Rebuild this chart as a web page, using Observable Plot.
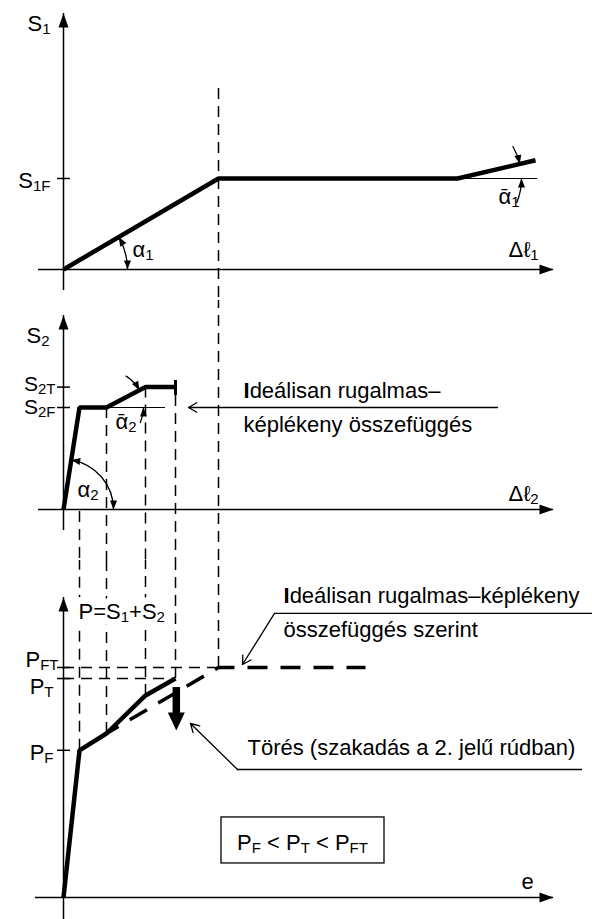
<!DOCTYPE html>
<html>
<head>
<meta charset="utf-8">
<script src="https://cdn.jsdelivr.net/npm/d3@7"></script>
<script src="https://cdn.jsdelivr.net/npm/@observablehq/plot@0.6"></script>
<style>
  body { margin: 0; background: #fff; }
  #chart { width: 592px; height: 919px; overflow: hidden; background: #fff; }
  #chart svg { display: block; }
</style>
</head>
<body>
<div id="chart"></div>
<script>
// Bar 1: axial force S1 against elongation Δℓ1 (yield, then slight hardening)
const bar1Elong = [0, 15.5, 39.4, 47.2];
const bar1Force = [0, 100, 100, 120];

// Bar 2: axial force S2 against elongation Δℓ2 (yield, hardening, rupture)
const bar2Elong = [0, 1.6, 4.3, 8.2, 11.2];
const bar2Force = [0, 100, 100, 120, 120];

// Total load P = S1 + S2 against displacement e
const totalElong = [0, 1.6, 4.3, 8.2, 11.2];
const totalLoad = [0, 128, 142.6, 175.7, 190.4];

// Ideal elastic–plastic prediction of the total load
const idealElong = [4.3, 15.5, 30.2];
const idealLoad = [142.6, 200, 200];

// Axis tick values and their labels
const s1Ticks = [bar1Force[1]];
const s1TickLabels = ["S_{1F}"];
const s2Ticks = [bar2Force[3], bar2Force[1]];
const s2TickLabels = ["S_{2T}", "S_{2F}"];
const pTicks = [idealLoad[1], totalLoad[4], totalLoad[1]];
const pTickLabels = ["P_{FT}", "P_{T}", "P_{F}"];

// ---- shared geometry of the three stacked panels ----
const W = 592;
const X_DOMAIN = [-6.3, 52.9];
const TOP = {h: 300, y: [-34.07, 295.6]};
const MID = {h: 260, y: [-50, 204.9]};
const BOT = {h: 359, y: [-19.13, 293.04]};
const sx = d3.scaleLinear(X_DOMAIN, [0, W]);

const FONT = "'Liberation Sans', Arial, Helvetica, sans-serif";
const FS = 22;
const thin = {stroke: "black", strokeWidth: 1.5};
const dashed = {stroke: "black", strokeWidth: 1.5, strokeDasharray: "11,7"};
const thick = {stroke: "black", strokeWidth: 4.5, strokeLinejoin: "miter", strokeLinecap: "butt"};

// filled triangular arrow head, tip at the origin, pointing at `deg` (screen angle)
function tri(deg, len, half) {
  const a = deg * Math.PI / 180, c = Math.cos(a), s = Math.sin(a);
  return {
    draw(ctx) {
      ctx.moveTo(0, 0);
      ctx.lineTo(-len * c + half * s, -len * s - half * c);
      ctx.lineTo(-len * c - half * s, -len * s + half * c);
      ctx.closePath();
    }
  };
}
function head(x, y, deg, len = 9, half = 3.5) {
  return Plot.dot([{x, y}], {x: "x", y: "y", symbol: tri(deg, len, half), fill: "black", stroke: "none"});
}

// axis pair with filled arrow heads
function axes(yMin, yTip, xMin, xTip) {
  return [
    Plot.ruleX([0], {y1: yMin, y2: yTip, ...thin}),
    Plot.ruleY([0], {x1: xMin, x2: xTip, ...thin}),
    head(0, yTip, -90, 14, 5),
    head(xTip, 0, 0, 14, 5)
  ];
}

// angle between the x axis and the segment p→q, in screen degrees (counter-clockwise positive)
function segAngle(sy, x0, y0, x1, y1) {
  return Math.atan2(sy(y0) - sy(y1), sx(x1) - sx(x0)) * 180 / Math.PI;
}

// circular angle-marker arc around a vertex, radius r px, from angle a0 to a1
function angleArc(sy, vx, vy, r, a0, a1, both) {
  const rad = Math.PI / 180;
  const pt = a => [sx.invert(sx(vx) + r * Math.cos(a * rad)), sy.invert(sy(vy) - r * Math.sin(a * rad))];
  const [x1, y1] = pt(a0), [x2, y2] = pt(a1);
  const cw = a1 < a0;
  const travel = a => cw
    ? Math.atan2(Math.cos(a * rad), Math.sin(a * rad)) / rad
    : Math.atan2(-Math.cos(a * rad), -Math.sin(a * rad)) / rad;
  const marks = [
    Plot.arrow([{x1, y1, x2, y2}], {x1: "x1", y1: "y1", x2: "x2", y2: "y2", bend: (a0 - a1) / 2, headLength: 0, stroke: "black", strokeWidth: 1.3}),
    head(x2, y2, travel(a1))
  ];
  if (both) marks.push(head(x1, y1, travel(a0) + 180));
  return marks;
}

function label(text, x, y, opts = {}) {
  return Plot.text([text], {x, y, text: d => d, fontSize: FS, fill: "black", textAnchor: "start", lineAnchor: "bottom", ...opts});
}

function leader(x1, y1, x2, y2) {
  return Plot.arrow([{x1, y1, x2, y2}], {x1: "x1", y1: "y1", x2: "x2", y2: "y2", headLength: 11, headAngle: 60, stroke: "black", strokeWidth: 1.3});
}

// subscripts written as _{..}, bold as *..*
function richText(node) {
  const s = node.textContent;
  if (!/[_*]/.test(s)) return;
  const re = /_\{([^}]*)\}|\*([^*]*)\*|([^_*]+)/g;
  const parts = [];
  let m;
  while ((m = re.exec(s))) {
    if (m[1] != null) parts.push({t: m[1], sub: true});
    else if (m[2] != null) parts.push({t: m[2], bold: true});
    else parts.push({t: m[3]});
  }
  node.textContent = "";
  let low = false;
  for (const p of parts) {
    const ts = document.createElementNS("http://www.w3.org/2000/svg", "tspan");
    ts.textContent = p.t;
    if (p.sub) {
      ts.setAttribute("font-size", "15px");
      if (!low) { ts.setAttribute("dy", "3"); low = true; }
    } else if (low) {
      ts.setAttribute("dy", "-3"); low = false;
    }
    if (p.bold) ts.setAttribute("font-weight", "bold");
    node.appendChild(ts);
  }
}

function panel(cfg, marks) {
  const svg = Plot.plot({
    width: W, height: cfg.h, margin: 0,
    x: {domain: X_DOMAIN, range: [0, W], axis: null},
    y: {domain: cfg.y, range: [cfg.h, 0], axis: null},
    style: {background: "white", color: "black", fontFamily: FONT, fontSize: FS + "px", overflow: "visible"},
    marks
  });
  svg.querySelectorAll("text").forEach(richText);
  return svg;
}

// ---------- top panel: bar 1 ----------
const syT = d3.scaleLinear(TOP.y, [TOP.h, 0]);
const ang1 = segAngle(syT, bar1Elong[0], bar1Force[0], bar1Elong[1], bar1Force[1]);
const ang1h = segAngle(syT, bar1Elong[2], bar1Force[2], bar1Elong[3], bar1Force[3]);
const panelBar1 = panel(TOP, [
  Plot.ruleX([bar1Elong[1]], {y1: 198.9, y2: TOP.y[0], ...dashed}),
  ...axes(-23, 281.3, -2.5, 49),
  Plot.ruleY(s1Ticks, {x1: -0.6, x2: 0.7, ...thin}),
  Plot.ruleY([bar1Force[2]], {x1: bar1Elong[2], x2: 47.4, stroke: "black", strokeWidth: 1.2}),
  Plot.line(bar1Elong.map((e, i) => ({e, s: bar1Force[i]})), {x: "e", y: "s", ...thick}),
  ...angleArc(syT, 0, 0, 64, 0, ang1, true),
  ...angleArc(syT, bar1Elong[2], bar1Force[2], 64, 30, ang1h, false),
  ...angleArc(syT, bar1Elong[2], bar1Force[2], 64, -22, 0, false),
  label("S_{1}", -1.3, 262.6, {textAnchor: "end"}),
  Plot.text(s1Ticks, {x: -1.3, y: d => d, text: (d, i) => s1TickLabels[i], textAnchor: "end", lineAnchor: "middle", dy: 2, fontSize: FS, fill: "black"}),
  label("α_{1}", 6.9, 13.2),
  label("ᾱ_{1}", 43.5, 72.5),
  label("Δℓ_{1}", 44.5, 13.2)
]);

// ---------- middle panel: bar 2 ----------
const syM = d3.scaleLinear(MID.y, [MID.h, 0]);
const ang2 = segAngle(syM, bar2Elong[0], bar2Force[0], bar2Elong[1], bar2Force[1]);
const ang2h = segAngle(syM, bar2Elong[2], bar2Force[2], bar2Elong[3], bar2Force[3]);
const panelBar2 = panel(MID, [
  Plot.ruleX([bar1Elong[1]], {y1: MID.y[0], y2: MID.y[1], ...dashed}),
  Plot.ruleX([bar2Elong[1]], {y1: bar2Force[0] - 2, y2: MID.y[0], ...dashed}),
  Plot.ruleX([bar2Elong[2]], {y1: bar2Force[2], y2: MID.y[0], ...dashed}),
  Plot.ruleX([bar2Elong[3]], {y1: bar2Force[3], y2: MID.y[0], ...dashed}),
  Plot.ruleX([bar2Elong[4]], {y1: 111.8, y2: MID.y[0], ...dashed}),
  ...axes(-20.6, 190.2, -2.5, 49),
  Plot.ruleY(s2Ticks, {x1: -0.6, x2: 0.7, ...thin}),
  Plot.ruleY([bar2Force[2]], {x1: bar2Elong[2], x2: 10.2, stroke: "black", strokeWidth: 1.2}),
  Plot.line(bar2Elong.map((e, i) => ({e, s: bar2Force[i]})), {x: "e", y: "s", ...thick}),
  Plot.ruleX([bar2Elong[4]], {y1: 111.8, y2: 126.5, stroke: "black", strokeWidth: 3}),
  ...angleArc(syM, 0, 0, 50, 0, ang2, true),
  ...angleArc(syM, bar2Elong[2], bar2Force[2], 37, 58, ang2h, false),
  ...angleArc(syM, bar2Elong[2], bar2Force[2], 37, -24, 0, false),
  label("S_{2}", -1.4, 163.7, {textAnchor: "end"}),
  Plot.text([s2Ticks[0]], {x: -0.8, y: d => d, text: () => s2TickLabels[0], textAnchor: "end", lineAnchor: "middle", dy: -3, fontSize: 21, fill: "black"}),
  Plot.text([s2Ticks[1]], {x: -0.8, y: d => d, text: () => s2TickLabels[1], textAnchor: "end", lineAnchor: "middle", dy: 0, fontSize: 21, fill: "black"}),
  label("α_{2}", 1.4, 11.8),
  label("ᾱ_{2}", 5.2, 79.4),
  label("Δℓ_{2}", 44.5, 8.8),
  label("*I*deálisan rugalmas–", 18, 109.8),
  label("képlékeny összefüggés", 18, 75.5),
  leader(43.4, bar2Force[1], 12.5, bar2Force[1])
]);

// ---------- bottom panel: total load ----------
const panelTotal = panel(BOT, [
  Plot.ruleX(totalElong.slice(1), {y1: (d, i) => totalLoad[i + 1], y2: BOT.y[1], ...dashed}),
  Plot.ruleX([bar1Elong[1]], {y1: idealLoad[1], y2: BOT.y[1], ...dashed}),
  Plot.ruleY([pTicks[0]], {x1: 0, x2: bar1Elong[1], ...dashed}),
  Plot.ruleY([pTicks[1]], {x1: 0, x2: totalElong[4], ...dashed}),
  ...axes(BOT.y[0], 260.9, -2.8, 49),
  Plot.ruleY(pTicks, {x1: -0.6, x2: 0.7, ...thin}),
  Plot.line(idealElong.map((e, i) => ({e, p: idealLoad[i]})), {x: "e", y: "p", stroke: "black", strokeWidth: 3.5, strokeDasharray: "20,13", strokeDashoffset: 6, strokeLinecap: "butt"}),
  Plot.line(totalElong.map((e, i) => ({e, p: totalLoad[i]})), {x: "e", y: "p", ...thick}),
  // rupture of bar 2: heavy downward arrow
  Plot.ruleX([11.28], {y1: 182.6, y2: 158, stroke: "black", strokeWidth: 7.5}),
  head(11.28, 145.2, 90, 18, 8.5),
  // white backing under the formula so the dashed guides stop behind it
  label("P=S_{1}+S_{2}", 1.5, 242.6, {fill: "white", stroke: "white", strokeWidth: 14, strokeLinejoin: "round", ariaHidden: "true"}),
  label("P=S_{1}+S_{2}", 1.5, 242.6),
  Plot.text([pTickLabels[0]], {x: -0.5, y: pTicks[0], text: d => d, textAnchor: "end", lineAnchor: "bottom", fontSize: FS, fill: "black"}),
  Plot.text([pTickLabels[1]], {x: -1.0, y: pTicks[1], text: d => d, textAnchor: "end", lineAnchor: "top", fontSize: FS, fill: "black"}),
  Plot.text([pTickLabels[2]], {x: -1.0, y: pTicks[2], text: d => d, textAnchor: "end", lineAnchor: "middle", dy: 3, fontSize: FS, fill: "black"}),
  label("e", 45.8, 7),
  label("*I*deálisan rugalmas–képlékeny", 22, 256.5),
  label("összefüggés szerint", 22, 226.1),
  Plot.ruleY([247], {x1: 21.1, x2: 52.9, stroke: "black", strokeWidth: 1.3}),
  leader(21.1, 247, 17.9, 202.6),
  label("Törés (szakadás a 2. jelű rúdban)", 18.4, 123.5),
  Plot.ruleY([111.3], {x1: 17.4, x2: 51.9, stroke: "black", strokeWidth: 1.3}),
  leader(17.4, 111.3, 12.7, 151.3),
  Plot.rect([0], {x1: 15.8, x2: 32.1, y1: 29.6, y2: 69.6, fill: "none", stroke: "black", strokeWidth: 1.3}),
  label("P_{F} < P_{T} < P_{FT}", 23.9, 40.9, {textAnchor: "middle"})
]);

document.getElementById("chart").append(panelBar1, panelBar2, panelTotal);
</script>
</body>
</html>
